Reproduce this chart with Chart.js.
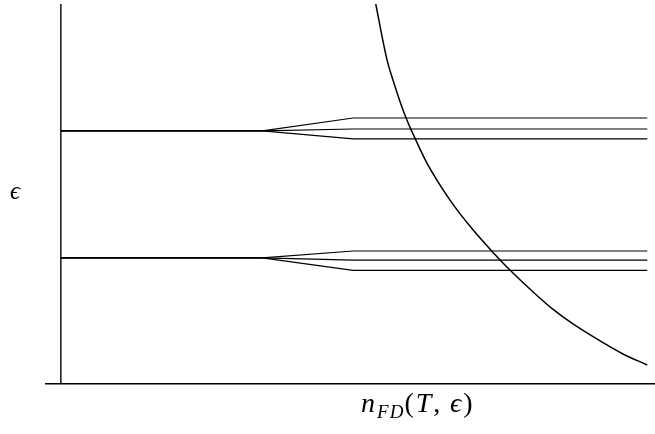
<!DOCTYPE html>
<html>
<head>
<meta charset="utf-8">
<script src="https://cdn.jsdelivr.net/npm/chart.js@4"></script>
<style>
  html, body { margin: 0; padding: 0; background: #fff; }
  #wrap { position: relative; width: 655px; height: 434px; }
  .lbl { position: absolute; font-family: "Liberation Serif", serif; color: #000; white-space: nowrap; }
  .it { font-style: italic; }
  sub { font-size: 68%; vertical-align: -0.3em; letter-spacing: 1px; }
</style>
</head>
<body>
<div id="wrap">
  <canvas id="levels_chart"></canvas>
  <div class="lbl it" style="left:10px; top:177px; font-size:25px;">ϵ</div>
  <div class="lbl" style="left:361px; top:387px; font-size:28px; letter-spacing:2px;"><span class="it">n<sub>FD</sub></span>(<span class="it">T</span>,&thinsp;<span class="it">ϵ</span>)</div>
</div>
<script>
// x positions where each level stays flat, starts splitting, finishes splitting, ends
const splitX = [0, 3.39, 4.92, 9.87];
// energy levels (two groups), before and after the split
const levelBase = [6.66, 3.32];
const levelUpper = [7.0, 3.5];
const levelMiddle = [6.71, 3.26];
const levelLower = [6.45, 2.99];
// Fermi-Dirac curve
const curveX = [5.30, 5.49, 5.59, 5.74, 5.84, 5.96, 6.16, 6.55, 6.94, 7.27, 7.61, 7.95, 8.28, 8.62, 9.08, 9.46, 9.87];
const curveY = [10.0, 8.53, 8.0, 7.29, 6.89, 6.47, 5.82, 4.84, 4.05, 3.47, 2.92, 2.42, 1.97, 1.58, 1.13, 0.79, 0.50];
// vertical axis extent
const axisY = [0, 10];

function levelLine(base, end) {
    return {
        data: [
            { x: splitX[0], y: base },
            { x: splitX[1], y: base },
            { x: splitX[2], y: end },
            { x: splitX[3], y: end },
        ],
        borderColor: "#000",
        borderWidth: 1.2,
        pointRadius: 0,
        tension: 0,
    };
}

const datasets = [];
levelBase.forEach(function (base, i) {
    datasets.push(levelLine(base, levelUpper[i]));
    datasets.push(levelLine(base, levelMiddle[i]));
    datasets.push(levelLine(base, levelLower[i]));
});

datasets.push({
    data: curveX.map(function (x, i) { return { x: x, y: curveY[i] }; }),
    borderColor: "#000",
    borderWidth: 1.5,
    pointRadius: 0,
    cubicInterpolationMode: "monotone",
});

// the y axis sits inside the plot, at x = 0
datasets.push({
    data: axisY.map(function (y) { return { x: 0, y: y }; }),
    borderColor: "#000",
    borderWidth: 1.4,
    pointRadius: 0,
});

new Chart(document.getElementById("levels_chart"), {
    type: "line",
    data: { datasets },
    options: {
        responsive: true,
        maintainAspectRatio: false,
        animation: false,
        layout: { padding: { left: 46, right: 0, top: 4, bottom: 42 } },
        plugins: { legend: { display: false }, tooltip: { enabled: false } },
        scales: {
            x: {
                type: "linear",
                min: -0.25,
                max: 10,
                ticks: { display: false },
                grid: { display: false },
                border: { display: true, color: "#000", width: 1.4 },
            },
            y: {
                min: 0,
                max: 10,
                display: false,
            },
        },
    },
});
</script>
</body>
</html>
